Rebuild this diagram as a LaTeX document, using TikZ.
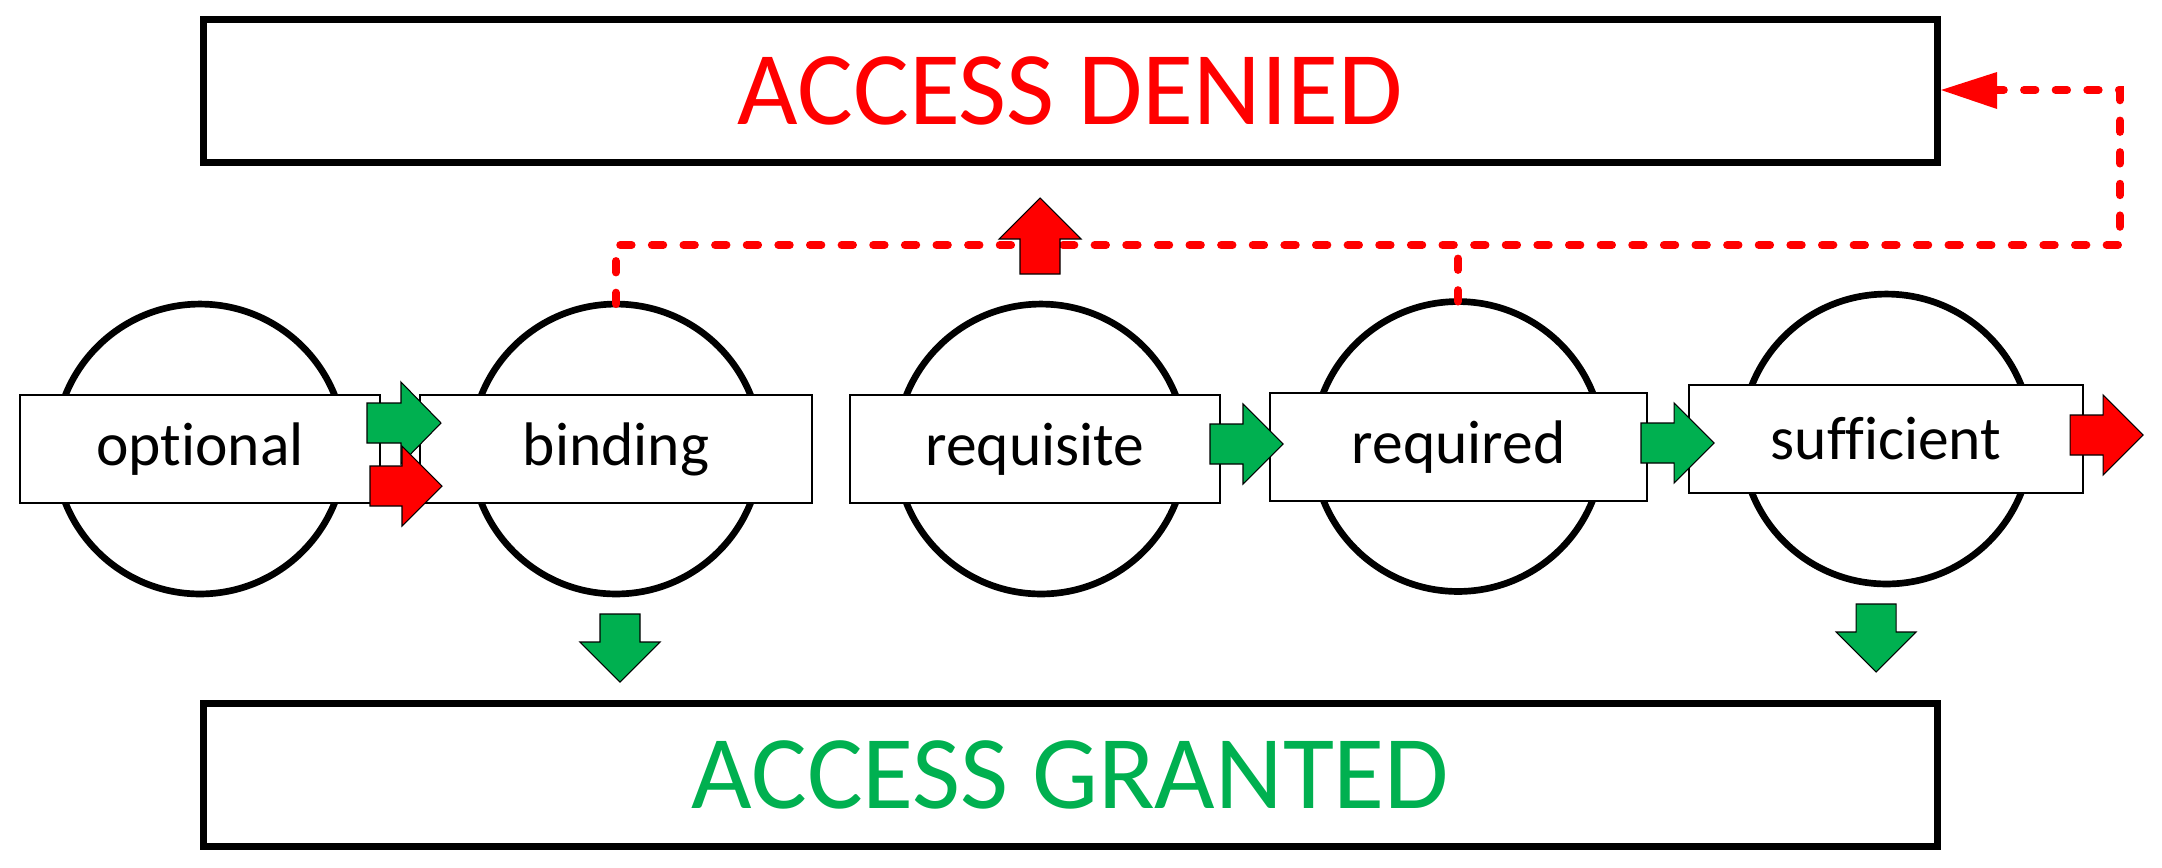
\documentclass[tikz,border=0pt]{standalone}
\usepackage{fontspec}
\setmainfont{Carlito}[Ligatures=NoCommon]
\usetikzlibrary{shapes.geometric}
\definecolor{okgreen}{HTML}{00B050}
\definecolor{okred}{HTML}{FF0000}
\tikzset{
  bigbox/.style={draw=black, line width=4pt, minimum width=987pt, minimum height=81pt, inner sep=0pt},
  loopcirc/.style={circle, draw=black, line width=3.8pt, minimum size=165pt, inner sep=0pt, outer sep=0pt},
  flagbox/.style={draw=black, fill=white, line width=1.2pt, minimum height=61.5pt, inner sep=0pt, font=\fontsize{35}{42}\selectfont},
  bigtxt/.style={font=\fontsize{59.5}{70}\selectfont},
  reddash/.style={draw=okred, line width=4.5pt, line cap=round, dash pattern=on 6.5pt off 11.5pt},
  blockarr/.style={draw=black, line width=0.6pt, line join=miter}
}
\newcommand\rblockarrow[7]{%
  \filldraw[blockarr, fill=#1] (#2,{#5-#6}) -- (#3,{#5-#6}) -- (#3,{#5-#7}) -- (#4,#5)
    -- (#3,{#5+#7}) -- (#3,{#5+#6}) -- (#2,{#5+#6}) -- cycle;}
\newcommand\vblockarrow[7]{%
  \filldraw[blockarr, fill=#1] ({#2-#6},#3) -- ({#2-#6},#4) -- ({#2-#7},#4) -- (#2,#5)
    -- ({#2+#7},#4) -- ({#2+#6},#4) -- ({#2+#6},#3) -- cycle;}
\begin{document}
\begin{tikzpicture}[x=0.02cm, y=-0.02cm]
\useasboundingbox (0,0) rectangle (2162,867);
% big boxes
\node[bigbox] (denied) at (1070.5,91) {};
\node[bigtxt, text=okred] at (denied.center) {ACCESS DENIED};
\node[bigbox] (granted) at (1070.5,775) {};
\node[bigtxt, text=okgreen] at (granted.center) {ACCESS GRANTED};
% loops
\node[loopcirc] (e1) at (200,449) {};
\node[loopcirc] (e2) at (616,449) {};
\node[loopcirc] (e3) at (1041,449) {};
\node[loopcirc] (e4) at (1458,446.5) {};
\node[loopcirc] (e5) at (1886.5,439) {};
% flags
\node[flagbox, minimum width=204.9pt] (optional) at (200,449) {optional};
\node[flagbox, minimum width=223.1pt] (binding) at (616,449) {binding};
\node[flagbox, minimum width=210.5pt] (requisite) at (1035,449) {requisite};
\node[flagbox, minimum width=214.5pt] (required) at (1458.5,447) {required};
\node[flagbox, minimum width=224.2pt] (sufficient) at (1886,439) {sufficient};
% dashed red connector
\coordinate (c1) at (2120,245);
\coordinate (c2) at (2120,90);
\coordinate (tipb) at (1997,90);
\draw[reddash] (e2.north) |- (c1) -- (c2) -- (tipb);
\draw[reddash] (e4.north) -- (e4.north |- c1);
\fill[okred] (1997,72) -- (denied.east |- tipb) -- (1997,109) -- cycle;
% block arrows
\rblockarrow{okgreen}{367}{401}{441}{423}{20}{41}
\rblockarrow{okred}{370}{402}{442}{486}{20}{40}
\rblockarrow{okgreen}{1210}{1243}{1283}{444}{20}{40}
\rblockarrow{okgreen}{1641}{1674}{1714}{443}{20}{40}
\rblockarrow{okred}{2070}{2103}{2143}{435}{20}{40}
\vblockarrow{okgreen}{620}{614}{642}{682}{20}{40}
\vblockarrow{okgreen}{1876}{604}{632}{672}{20}{40}
\vblockarrow{okred}{1040}{274}{239}{198}{20}{41}
\end{tikzpicture}
\end{document}
